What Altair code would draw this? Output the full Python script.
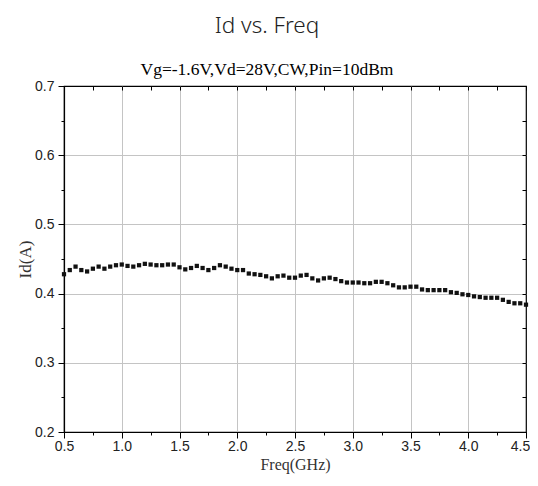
import altair as alt
import pandas as pd

freq = [0.50, 0.55, 0.60, 0.65, 0.70, 0.75, 0.80, 0.85, 0.90, 0.95,
        1.00, 1.05, 1.10, 1.15, 1.20, 1.25, 1.30, 1.35, 1.40, 1.45,
        1.50, 1.55, 1.60, 1.65, 1.70, 1.75, 1.80, 1.85, 1.90, 1.95,
        2.00, 2.05, 2.10, 2.15, 2.20, 2.25, 2.30, 2.35, 2.40, 2.45,
        2.50, 2.55, 2.60, 2.65, 2.70, 2.75, 2.80, 2.85, 2.90, 2.95,
        3.00, 3.05, 3.10, 3.15, 3.20, 3.25, 3.30, 3.35, 3.40, 3.45,
        3.50, 3.55, 3.60, 3.65, 3.70, 3.75, 3.80, 3.85, 3.90, 3.95,
        4.00, 4.05, 4.10, 4.15, 4.20, 4.25, 4.30, 4.35, 4.40, 4.45,
        4.50]
id_a = [0.428, 0.434, 0.439, 0.434, 0.432, 0.436, 0.439, 0.436, 0.439, 0.441,
        0.442, 0.440, 0.439, 0.441, 0.443, 0.442, 0.441, 0.441, 0.442, 0.442,
        0.438, 0.435, 0.437, 0.440, 0.437, 0.434, 0.437, 0.441, 0.439, 0.436,
        0.434, 0.434, 0.429, 0.428, 0.427, 0.425, 0.422, 0.425, 0.426, 0.423,
        0.423, 0.426, 0.427, 0.422, 0.419, 0.422, 0.423, 0.421, 0.418, 0.416,
        0.416, 0.416, 0.415, 0.415, 0.417, 0.417, 0.415, 0.412, 0.409, 0.409,
        0.410, 0.410, 0.406, 0.405, 0.405, 0.405, 0.405, 0.402, 0.401, 0.399,
        0.398, 0.396, 0.395, 0.394, 0.394, 0.394, 0.391, 0.388, 0.386, 0.386,
        0.384]

x_ticks = [0.5, 0.75, 1.0, 1.25, 1.5, 1.75, 2.0, 2.25, 2.5, 2.75, 3.0, 3.25,
           3.5, 3.75, 4.0, 4.25, 4.5]
y_ticks = [0.2, 0.25, 0.3, 0.35, 0.4, 0.45, 0.5, 0.55, 0.6, 0.65, 0.7]

df = pd.DataFrame({"freq": freq, "id": id_a})

x_major = "abs(datum.value*2 - round(datum.value*2)) < 0.001"
y_major = "abs(datum.value*10 - round(datum.value*10)) < 0.001"

xscale = alt.Scale(domain=[0.5, 4.5], nice=False, zero=False)
yscale = alt.Scale(domain=[0.2, 0.7], nice=False, zero=False)

label_font = "Liberation Sans"
title_font = "Liberation Serif"

x_axis = alt.Axis(
    values=x_ticks,
    labelExpr=f"{x_major} ? format(datum.value, '.1f') : ''",
    labelOverlap=False, labelFlush=False,
    labelOffset={"condition": {"test": "datum.value > 4.45", "value": -6}, "value": 0},
    labelFont=label_font, labelFontSize=14, labelColor="#222",
    labelPadding=1,
    tickColor="black", tickWidth=1,
    tickSize={"condition": {"test": x_major, "value": 6}, "value": 3},
    grid=True, gridColor="#c4c4c4", gridWidth=1,
    gridOpacity={"condition": {"test": f"{x_major} && datum.value > 0.6 && datum.value < 4.4", "value": 1}, "value": 0},
    domainColor="black", domainWidth=1.2,
    title="Freq(GHz)", titleFont=title_font, titleFontSize=16,
    titleFontWeight="normal", titleColor="#333", titlePadding=3,
)
y_axis = alt.Axis(
    values=y_ticks,
    labelExpr=f"{y_major} ? format(datum.value, '.1f') : ''",
    labelOverlap=False,
    labelFont=label_font, labelFontSize=14, labelColor="#222",
    labelPadding=4,
    tickColor="black", tickWidth=1,
    tickSize={"condition": {"test": y_major, "value": 6}, "value": 3},
    grid=True, gridColor="#c4c4c4", gridWidth=1,
    gridOpacity={"condition": {"test": f"{y_major} && datum.value > 0.21 && datum.value < 0.69", "value": 1}, "value": 0},
    domainColor="black", domainWidth=1.2,
    title="Id(A)", titleFont=title_font, titleFontSize=17,
    titleFontWeight="normal", titleColor="#333", titlePadding=0,
)

points = alt.Chart(df).mark_point(
    shape="square", filled=True, size=18, color="#111", opacity=1
).encode(
    x=alt.X("freq:Q", scale=xscale, axis=x_axis),
    y=alt.Y("id:Q", scale=yscale, axis=y_axis),
)

top_axis = alt.Axis(orient="top", values=x_ticks, labels=False, domain=False,
                    grid=False, tickSize=4, offset=-4, tickColor="black", title=None)
right_axis = alt.Axis(orient="right", values=y_ticks, labels=False, domain=False,
                      grid=False, tickSize=4, offset=-4, tickColor="black", title=None)

frame = alt.Chart(df).mark_point(opacity=0).encode(
    x=alt.X("freq:Q", scale=xscale, axis=top_axis),
    y=alt.Y("id:Q", scale=yscale, axis=right_axis),
)

chart = alt.layer(points, frame).resolve_scale(
    x="independent", y="independent"
).properties(
    width=462,
    height=346,
    autosize=alt.AutoSizeParams(type="none"),
    padding={"left": 56, "top": 78, "right": 4, "bottom": 44},
    title=alt.TitleParams(
        text="Id vs. Freq",
        subtitle="Vg=-1.6V,Vd=28V,CW,Pin=10dBm",
        font="Noto Sans", fontSize=22.5, fontWeight=300, color="#222",
        subtitleFont="Liberation Serif", subtitleFontSize=17.5, subtitleColor="black",
        anchor="middle", dx=-28, offset=1, subtitlePadding=23,
    ),
).configure_view(stroke="black", strokeWidth=1.2)

chart.save("out.html", embed_options={"renderer": "svg", "actions": False})
